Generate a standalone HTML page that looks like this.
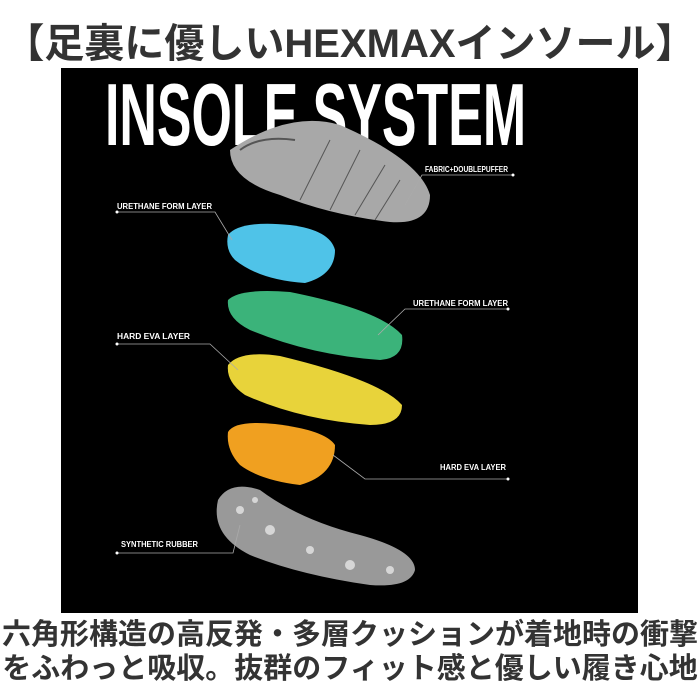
<!DOCTYPE html>
<html><head><meta charset="utf-8"><style>
body{margin:0;width:700px;height:700px;background:#fff;overflow:hidden;position:relative;font-family:"Liberation Sans","Noto Sans CJK JP",sans-serif}
.t{position:absolute;left:0;width:700px;text-align:center;color:#333;white-space:nowrap}
</style></head><body>
<div class="t" style="top:20px;font-size:40px;font-weight:bold;letter-spacing:0px;line-height:48px">【足裏に優しいHEXMAXインソール】</div>
<div style="position:absolute;left:61px;top:68px;width:577px;height:545px;background:#000"></div>
<svg style="position:absolute;left:0;top:0" width="700" height="700">
<text x="105" y="145" fill="#fff" font-family="Liberation Sans" font-weight="bold" font-size="88" transform="translate(105 0) scale(0.59 1) translate(-105 0)">INSOLE SYSTEM</text>
<path d="M230,150 Q290,110 340,125 Q420,160 430,195 Q430,225 390,222 Q330,215 280,195 Q230,180 230,150Z" fill="#a8a8a8"/>
<path d="M240,150 Q260,135 295,140" stroke="#555" fill="none" stroke-width="2"/>
<g stroke="#555" stroke-width="1"><line x1="300" y1="200" x2="330" y2="140"/><line x1="330" y1="210" x2="360" y2="150"/><line x1="355" y1="215" x2="385" y2="165"/><line x1="375" y1="220" x2="400" y2="180"/></g>
<path d="M228,235 Q240,220 290,225 Q330,230 335,250 Q335,275 305,283 Q260,280 235,260 Q225,250 228,235Z" fill="#4fc3e8"/>
<path d="M228,300 Q240,288 290,292 Q380,310 402,335 Q405,358 380,360 Q310,355 250,330 Q226,318 228,300Z" fill="#3bb37a"/>
<path d="M228,365 Q240,350 280,356 Q380,380 402,405 Q402,425 370,425 Q300,420 245,395 Q226,382 228,365Z" fill="#e8d33a"/>
<path d="M228,432 Q235,420 275,424 Q325,430 335,445 Q335,475 300,485 Q260,480 240,465 Q226,450 228,432Z" fill="#f0a020"/>
<path d="M218,500 Q230,480 260,490 Q300,520 360,535 Q415,550 415,570 Q410,588 370,585 Q300,575 250,555 Q210,535 218,500Z" fill="#999"/>
<g fill="#fff" opacity="0.6"><circle cx="240" cy="510" r="4"/><circle cx="270" cy="530" r="5"/><circle cx="310" cy="550" r="4"/><circle cx="350" cy="565" r="5"/><circle cx="390" cy="570" r="4"/><circle cx="255" cy="500" r="3"/></g>
<g fill="#fff" font-family="Liberation Sans" font-weight="bold" font-size="8">
<text x="425" y="172" textLength="83" lengthAdjust="spacingAndGlyphs">FABRIC+DOUBLEPUFFER</text>
<text x="117" y="209" textLength="95" lengthAdjust="spacingAndGlyphs">URETHANE FORM LAYER</text>
<text x="413" y="306" textLength="95" lengthAdjust="spacingAndGlyphs">URETHANE FORM LAYER</text>
<text x="117" y="339" textLength="73" lengthAdjust="spacingAndGlyphs">HARD EVA LAYER</text>
<text x="440" y="470" textLength="66" lengthAdjust="spacingAndGlyphs">HARD EVA LAYER</text>
<text x="121" y="547" textLength="77" lengthAdjust="spacingAndGlyphs">SYNTHETIC RUBBER</text>
</g>
<g stroke="#aaa" stroke-width="0.8" fill="none">
<polyline points="513,175 422,175 405,205"/>
<polyline points="117,212 215,212 232,240"/>
<polyline points="508,309 405,309 378,335"/>
<polyline points="117,344 210,344 238,370"/>
<polyline points="508,479 365,479 333,455"/>
<polyline points="117,553 233,553 240,525"/>
</g>
<g fill="#fff"><circle cx="513" cy="175" r="1.5"/><circle cx="117" cy="212" r="1.5"/><circle cx="508" cy="309" r="1.5"/><circle cx="117" cy="344" r="1.5"/><circle cx="508" cy="479" r="1.5"/><circle cx="117" cy="553" r="1.5"/></g>
</svg>
<div class="t" style="top:618px;font-size:29px;font-weight:bold;line-height:34px">六角形構造の高反発・多層クッションが着地時の衝撃<br>をふわっと吸収。抜群のフィット感と優しい履き心地</div>
</body></html>
